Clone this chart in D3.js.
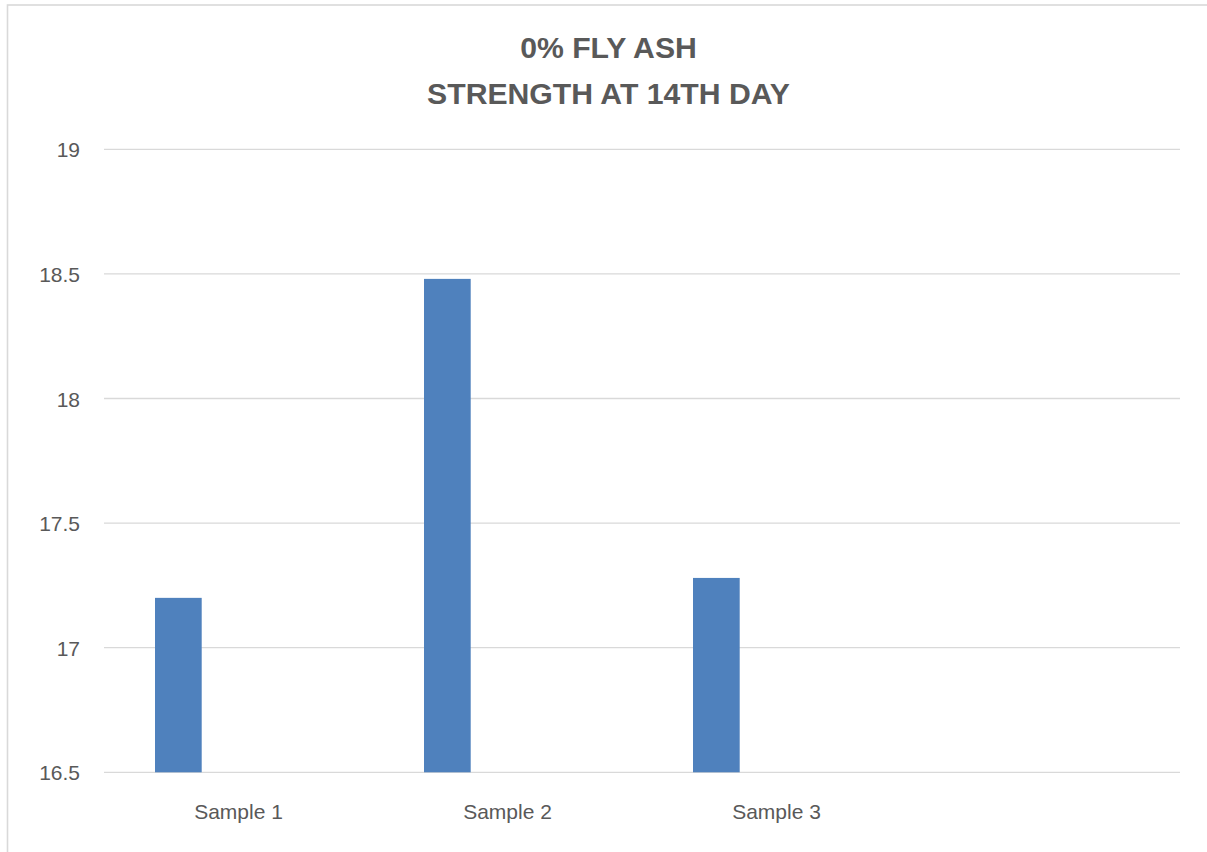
<!DOCTYPE html>
<html>
<head>
<meta charset="utf-8">
<script src="https://cdn.jsdelivr.net/npm/d3@7/dist/d3.min.js"></script>
<style>
  html, body { margin: 0; padding: 0; background: #fff; }
  svg { display: block; }
</style>
</head>
<body>
<svg id="chart" width="1207" height="852"></svg>
<script>
// Chart data
const titleLines = ["0% FLY ASH", "STRENGTH AT 14TH DAY"];
const categories = ["Sample 1", "Sample 2", "Sample 3", ""];
const strengthValues = [17.2, 18.48, 17.28, null];
const yTicks = [16.5, 17, 17.5, 18, 18.5, 19];

const W = 1207, H = 852;
const plot = { left: 104, right: 1180, top: 149.3, bottom: 772.3 };
const textColor = "#595959";
const gridColor = "#d9d9d9";
const barColor = "#4f81bd";
const fontFamily = "'Liberation Sans', Arial, sans-serif";

const svg = d3.select("#chart");

// chart area border (extends past the right and bottom edges)
svg.append("rect")
  .attr("x", 7.5).attr("y", 5)
  .attr("width", W + 20).attr("height", H + 20)
  .attr("fill", "#fff")
  .attr("stroke", gridColor)
  .attr("stroke-width", 1.6);

const x = d3.scaleBand()
  .domain(categories)
  .range([plot.left, plot.right])
  .paddingInner(0).paddingOuter(0);

const y = d3.scaleLinear()
  .domain([16.5, 19])
  .range([plot.bottom, plot.top]);

// horizontal gridlines
svg.append("g")
  .selectAll("line")
  .data(yTicks)
  .join("line")
  .attr("x1", plot.left).attr("x2", plot.right)
  .attr("y1", d => y(d)).attr("y2", d => y(d))
  .attr("stroke", gridColor)
  .attr("stroke-width", 1.3);

// y axis labels
const yAxis = d3.axisLeft(y).tickValues(yTicks).tickSize(0).tickPadding(24)
  .tickFormat(d3.format("~g"));
svg.append("g")
  .attr("transform", `translate(${plot.left},0)`)
  .call(yAxis)
  .call(g => g.select(".domain").remove())
  .call(g => g.selectAll("text")
    .attr("fill", textColor)
    .attr("font-family", fontFamily)
    .attr("font-size", 21)
    .attr("dy", "0.36em"));

// x axis labels
const xAxis = d3.axisBottom(x).tickSize(0).tickPadding(32);
svg.append("g")
  .attr("transform", `translate(0,${plot.bottom})`)
  .call(xAxis)
  .call(g => g.select(".domain").remove())
  .call(g => g.selectAll("text")
    .attr("fill", textColor)
    .attr("font-family", fontFamily)
    .attr("font-size", 21));

// columns sit in the left part of each category slot
const barOffset = 0.1896, barWidth = 0.1736;
svg.append("g")
  .selectAll("rect")
  .data(categories.map((c, i) => ({ c, v: strengthValues[i] })).filter(d => d.v != null))
  .join("rect")
  .attr("x", d => x(d.c) + x.bandwidth() * barOffset)
  .attr("width", x.bandwidth() * barWidth)
  .attr("y", d => y(d.v))
  .attr("height", d => y(16.5) - y(d.v))
  .attr("fill", barColor);

// title
svg.append("text")
  .attr("text-anchor", "middle")
  .attr("font-family", fontFamily)
  .attr("font-weight", "bold")
  .attr("font-size", 30.2)
  .attr("fill", textColor)
  .selectAll("tspan")
  .data(titleLines)
  .join("tspan")
  .attr("x", 608.5)
  .attr("y", (d, i) => 57.5 + i * 46)
  .text(d => d);
</script>
</body>
</html>
